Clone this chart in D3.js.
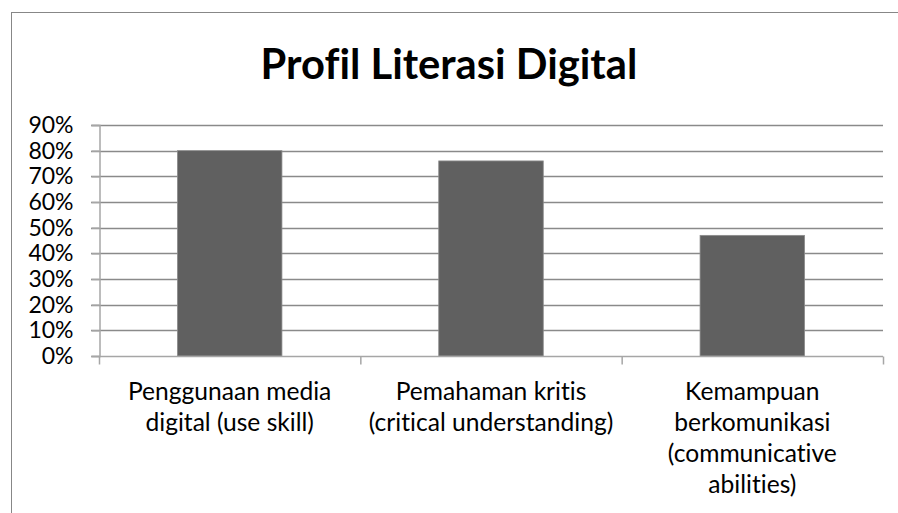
<!DOCTYPE html>
<html>
<head>
<meta charset="utf-8">
<script src="https://cdn.jsdelivr.net/npm/d3@7"></script>
<style>
    body { margin: 0; background: #ffffff; }
    svg { display: block; }
    text { font-family: Lato, "Open Sans", sans-serif; fill: #000; font-variant-ligatures: none; }
</style>
</head>
<body>
<div class="chart_holder"></div>
<script>

const chart_title = "Profil Literasi Digital"

const categories = [
    ["Penggunaan media", "digital (use skill)"],
    ["Pemahaman kritis", "(critical understanding)"],
    ["Kemampuan", "berkomunikasi", "(communicative", "abilities)"]
]

const values = [0.80, 0.76, 0.47]

const y_ticks = [0, 0.1, 0.2, 0.3, 0.4, 0.5, 0.6, 0.7, 0.8, 0.9]


function drawChart() {

    const width = 898
    const height = 513
    const margin = { top: 125, right: 15, bottom: 157, left: 99 }

    const svg = d3.select(".chart_holder")
        .append("svg")
        .attr("width", width)
        .attr("height", height)

    // outer frame, runs off the right and bottom edge
    svg.append("rect")
        .attr("x", 11.5)
        .attr("y", 12.5)
        .attr("width", 920)
        .attr("height", 540)
        .attr("fill", "none")
        .attr("stroke", "#878787")
        .attr("stroke-width", 1)

    svg.append("text")
        .attr("x", 449)
        .attr("y", 79)
        .attr("text-anchor", "middle")
        .style("font-size", "41.7px")
        .style("font-weight", "bold")
        .text(chart_title)

    const x_scale = d3.scaleBand()
        .domain(d3.range(categories.length))
        .range([margin.left, width - margin.right])
        .paddingInner(0.6)
        .paddingOuter(0.3)

    const x_band = d3.scaleBand()
        .domain(d3.range(categories.length))
        .range([margin.left, width - margin.right])

    const y_scale = d3.scaleLinear()
        .domain([0, 0.9])
        .range([height - margin.bottom, margin.top])

    // gridlines
    svg.append("g")
        .selectAll("line")
        .data(y_ticks.filter(d => d > 0))
        .join("line")
        .attr("x1", margin.left - 8)
        .attr("x2", width - margin.right)
        .attr("y1", d => Math.round(y_scale(d)) + 0.5)
        .attr("y2", d => Math.round(y_scale(d)) + 0.5)
        .attr("stroke", "#8a8a8a")
        .attr("stroke-width", 1.5)

    // bars
    svg.append("g")
        .selectAll("rect")
        .data(values)
        .join("rect")
        .attr("x", (d, i) => x_scale(i))
        .attr("width", x_scale.bandwidth())
        .attr("y", d => y_scale(d))
        .attr("height", d => y_scale(0) - y_scale(d))
        .attr("fill", "#606060")
        .attr("stroke", "#8c8c8c")
        .attr("stroke-width", 0.8)

    // y axis
    const y_axis = d3.axisLeft(y_scale)
        .tickValues(y_ticks)
        .tickFormat(d3.format(".0%"))
        .tickSize(8)
        .tickPadding(18)

    const y_g = svg.append("g")
        .attr("transform", `translate(${margin.left + 0.5},0)`)
        .call(y_axis)

    y_g.select(".domain").attr("stroke", "#a6a6a6").attr("stroke-width", 1.5)
    y_g.selectAll(".tick line").attr("stroke", "#a6a6a6").attr("stroke-width", 1.5)
    y_g.selectAll(".tick text")
        .style("font-size", "23px")
        .style("fill", "#000")

    // x axis baseline and ticks at band edges
    const base_y = Math.round(y_scale(0)) + 0.5

    svg.append("line")
        .attr("x1", margin.left - 8)
        .attr("x2", width - margin.right)
        .attr("y1", base_y)
        .attr("y2", base_y)
        .attr("stroke", "#a6a6a6")
        .attr("stroke-width", 1.5)

    const edges = d3.range(categories.length + 1).map(i => i < categories.length ? x_band(i) : width - margin.right)

    svg.append("g")
        .selectAll("line")
        .data(edges)
        .join("line")
        .attr("x1", d => d + 0.5)
        .attr("x2", d => d + 0.5)
        .attr("y1", base_y)
        .attr("y2", base_y + 8)
        .attr("stroke", "#a6a6a6")
        .attr("stroke-width", 1.5)

    // category labels
    svg.append("g")
        .selectAll("text")
        .data(categories)
        .join("text")
        .attr("text-anchor", "middle")
        .style("font-size", "24.6px")
        .attr("transform", (d, i) => `translate(${x_band(i) + x_band.bandwidth() / 2},400)`)
        .selectAll("tspan")
        .data(d => d)
        .join("tspan")
        .attr("x", 0)
        .attr("y", (d, i) => i * 31)
        .text(d => d)
}

drawChart()
</script>
</body>
</html>
